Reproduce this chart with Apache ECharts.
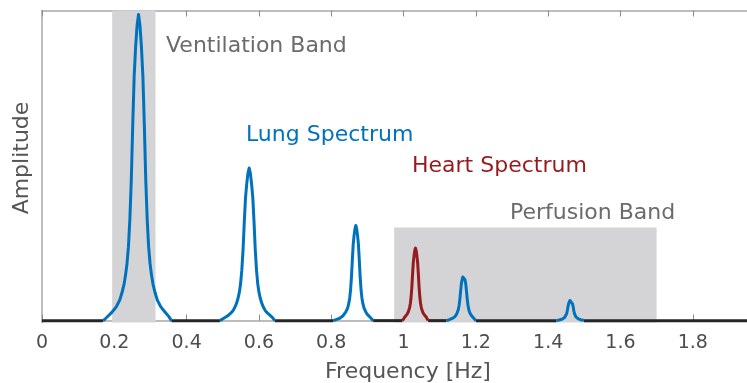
<!DOCTYPE html>
<html>
<head>
<meta charset="utf-8">
<script src="https://cdn.jsdelivr.net/npm/echarts@6/dist/echarts.min.js"></script>
<style>
html,body{margin:0;padding:0;background:#fff;}
#c{width:747px;height:383px;}
</style>
</head>
<body>
<div id="c"></div>
<script>
// ---- data ----
const xTickValues = [0, 0.2, 0.4, 0.6, 0.8, 1, 1.2, 1.4, 1.6, 1.8];
const xTickLabels = ['0', '0.2', '0.4', '0.6', '0.8', '1', '1.2', '1.4', '1.6', '1.8'];

const baselineSegments = [[0, 0.169], [0.358, 0.492], [0.644, 0.805], [0.916, 0.997], [1.068, 1.119], [1.2, 1.423], [1.499, 1.95]];

const lungPeak1 = [[0.169,0],[0.175,0.006],[0.183,0.015],[0.191,0.024],[0.199,0.035],[0.207,0.048],[0.215,0.066],[0.221,0.089],[0.227,0.118],[0.231,0.146],[0.235,0.183],[0.239,0.237],[0.243,0.326],[0.247,0.454],[0.251,0.632],[0.255,0.79],[0.259,0.883],[0.263,0.952],[0.267,0.987],[0.271,0.952],[0.275,0.883],[0.279,0.79],[0.283,0.632],[0.287,0.454],[0.291,0.326],[0.295,0.237],[0.299,0.183],[0.303,0.146],[0.307,0.118],[0.313,0.089],[0.319,0.066],[0.327,0.048],[0.335,0.035],[0.343,0.024],[0.351,0.013],[0.358,0]];
const lungPeak2 = [[0.492,0],[0.4948,0.003],[0.5016,0.007],[0.5084,0.012],[0.5152,0.017],[0.522,0.024],[0.5288,0.033],[0.5339,0.044],[0.539,0.059],[0.5424,0.073],[0.5458,0.091],[0.5492,0.118],[0.5526,0.162],[0.556,0.226],[0.5594,0.315],[0.5628,0.394],[0.5662,0.44],[0.5696,0.475],[0.573,0.492],[0.5764,0.475],[0.5798,0.44],[0.5832,0.394],[0.5866,0.315],[0.59,0.226],[0.5934,0.162],[0.5968,0.118],[0.6002,0.091],[0.6036,0.073],[0.607,0.059],[0.6121,0.044],[0.6172,0.033],[0.624,0.024],[0.6308,0.017],[0.6376,0.01],[0.644,0]];
const lungPeak3 = [[0.805,0],[0.8128,0.003],[0.8176,0.005],[0.8224,0.007],[0.8272,0.011],[0.832,0.015],[0.8368,0.021],[0.8404,0.028],[0.844,0.037],[0.8464,0.045],[0.8488,0.057],[0.8512,0.074],[0.8536,0.101],[0.856,0.141],[0.8584,0.196],[0.8608,0.246],[0.8632,0.275],[0.8656,0.296],[0.868,0.307],[0.8704,0.296],[0.8728,0.275],[0.8752,0.246],[0.8776,0.196],[0.88,0.141],[0.8824,0.101],[0.8848,0.074],[0.8872,0.057],[0.8896,0.045],[0.892,0.037],[0.8956,0.028],[0.8992,0.021],[0.904,0.015],[0.9088,0.009],[0.916,0]];
const heartPeak = [[0.997,0],[0.999,0.006],[1.003,0.011],[1.007,0.016],[1.01,0.021],[1.013,0.028],[1.015,0.035],[1.017,0.043],[1.019,0.056],[1.021,0.077],[1.023,0.108],[1.025,0.15],[1.027,0.187],[1.029,0.209],[1.031,0.226],[1.033,0.234],[1.035,0.226],[1.037,0.209],[1.039,0.187],[1.041,0.15],[1.043,0.108],[1.045,0.077],[1.047,0.056],[1.049,0.043],[1.051,0.035],[1.053,0.028],[1.056,0.021],[1.059,0.016],[1.063,0.011],[1.066,0.006],[1.068,0]];
const lungPeak4 = [[1.119,0],[1.1265,0.003],[1.1306,0.005],[1.1348,0.007],[1.139,0.01],[1.1421,0.013],[1.1452,0.018],[1.1473,0.022],[1.1493,0.027],[1.1514,0.035],[1.1535,0.048],[1.1556,0.067],[1.1577,0.093],[1.1598,0.117],[1.1618,0.131],[1.1639,0.141],[1.166,0.146],[1.1681,0.141],[1.1702,0.131],[1.1722,0.117],[1.1743,0.093],[1.1764,0.067],[1.1785,0.048],[1.1806,0.035],[1.1827,0.027],[1.1847,0.022],[1.1868,0.018],[1.1899,0.013],[1.193,0.009],[1.1972,0.005],[1.2,0]];
const lungPeak5 = [[1.423,0],[1.427,0.001],[1.4307,0.002],[1.4344,0.003],[1.4381,0.0045],[1.4408,0.006],[1.4436,0.008],[1.4455,0.01],[1.4473,0.012],[1.4491,0.016],[1.451,0.022],[1.4528,0.031],[1.4546,0.043],[1.4565,0.054],[1.4583,0.06],[1.4602,0.065],[1.462,0.067],[1.4638,0.065],[1.4657,0.06],[1.4675,0.054],[1.4694,0.043],[1.4712,0.031],[1.473,0.022],[1.4749,0.016],[1.4767,0.012],[1.4785,0.01],[1.4804,0.008],[1.4832,0.006],[1.4859,0.0045],[1.4896,0.003],[1.4933,0.002],[1.497,0.001],[1.499,0]];

const ventilationBand = [0.194, 0.314];        // x range, full height
const perfusionBand = [0.974, 1.70, 0.30];     // x range, top value

const lungPeaks = [lungPeak1, lungPeak2, lungPeak3, lungPeak4, lungPeak5];

const X_MIN = 0, X_MAX = 1.95, Y_MIN = -0.006, Y_MAX = 1.0;

const BLUE = '#0072BD', RED = '#971A1E', BLACK = '#262626', BAND = '#d4d4d6';
const FONT = '"DejaVu Sans", sans-serif';

const chart = echarts.init(document.getElementById('c'), null, {renderer: 'canvas'});

const series = [];
series.push({
  type: 'line', data: [], z: 0, silent: true,
  markArea: {
    silent: true,
    itemStyle: {color: BAND, opacity: 1},
    data: [
      [{xAxis: ventilationBand[0], yAxis: Y_MIN}, {xAxis: ventilationBand[1], yAxis: Y_MAX}],
      [{xAxis: perfusionBand[0], yAxis: Y_MIN}, {xAxis: perfusionBand[1], yAxis: perfusionBand[2]}]
    ]
  }
});
baselineSegments.forEach(seg => {
  series.push({type: 'line', data: [[seg[0], 0], [seg[1], 0]], symbol: 'none', z: 3,
    lineStyle: {color: BLACK, width: 3}});
});
lungPeaks.forEach(p => {
  series.push({type: 'line', data: p, symbol: 'none', smooth: false, z: 4,
    lineStyle: {color: BLUE, width: 3, join: 'round', cap: 'butt'}});
});
series.push({type: 'line', data: heartPeak, symbol: 'none', smooth: false, z: 4,
  lineStyle: {color: RED, width: 3, join: 'round', cap: 'butt'}});

const axisGray = '#a8a8a8';

chart.setOption({
  animation: false,
  backgroundColor: '#fff',
  grid: {left: 42, right: 0, top: 10.5, bottom: 60.5, containLabel: false},
  xAxis: [{
    type: 'value', min: X_MIN, max: X_MAX, interval: 0.2, position: 'bottom',
    axisLine: {show: true, lineStyle: {color: axisGray, width: 1.5}},
    axisTick: {show: true, inside: true, length: 6, lineStyle: {color: '#8a8a8a', width: 1}},
    axisLabel: {
      show: true, margin: 11, color: '#4d4d4d', fontFamily: FONT, fontSize: 19, showMaxLabel: false,
      formatter: v => {
        const i = xTickValues.findIndex(t => Math.abs(t - v) < 1e-6);
        return i >= 0 ? xTickLabels[i] : '';
      }
    },
    splitLine: {show: false}
  }, {
    type: 'value', min: X_MIN, max: X_MAX, interval: 0.2, position: 'top',
    axisLine: {show: true, lineStyle: {color: axisGray, width: 1.5}},
    axisTick: {show: true, inside: true, length: 6, lineStyle: {color: '#8a8a8a', width: 1}},
    axisLabel: {show: false},
    splitLine: {show: false}
  }],
  yAxis: {
    type: 'value', min: Y_MIN, max: Y_MAX,
    axisLine: {show: true, lineStyle: {color: axisGray, width: 1.5}},
    axisTick: {show: false}, axisLabel: {show: false}, splitLine: {show: false}
  },
  series: series,
  graphic: [
    {type: 'text', x: 166, y: 46, z: 10, style: {text: 'Ventilation Band', fill: '#6b6b6b', font: '22px ' + FONT, align: 'left', verticalAlign: 'middle'}},
    {type: 'text', x: 246, y: 135, z: 10, style: {text: 'Lung Spectrum', fill: BLUE, font: '22px ' + FONT, align: 'left', verticalAlign: 'middle'}},
    {type: 'text', x: 412, y: 166, z: 10, style: {text: 'Heart Spectrum', fill: RED, font: '22px ' + FONT, align: 'left', verticalAlign: 'middle'}},
    {type: 'text', x: 510, y: 213, z: 10, style: {text: 'Perfusion Band', fill: '#6b6b6b', font: '22px ' + FONT, align: 'left', verticalAlign: 'middle'}},
    {type: 'text', x: 408, y: 372, z: 10, style: {text: 'Frequency [Hz]', fill: '#555555', font: '22px ' + FONT, align: 'center', verticalAlign: 'middle'}},
    {type: 'text', x: 22, y: 158, rotation: Math.PI / 2, z: 10, style: {text: 'Amplitude', fill: '#555555', font: '22px ' + FONT, align: 'center', verticalAlign: 'middle'}}
  ]
});
</script>
</body>
</html>
